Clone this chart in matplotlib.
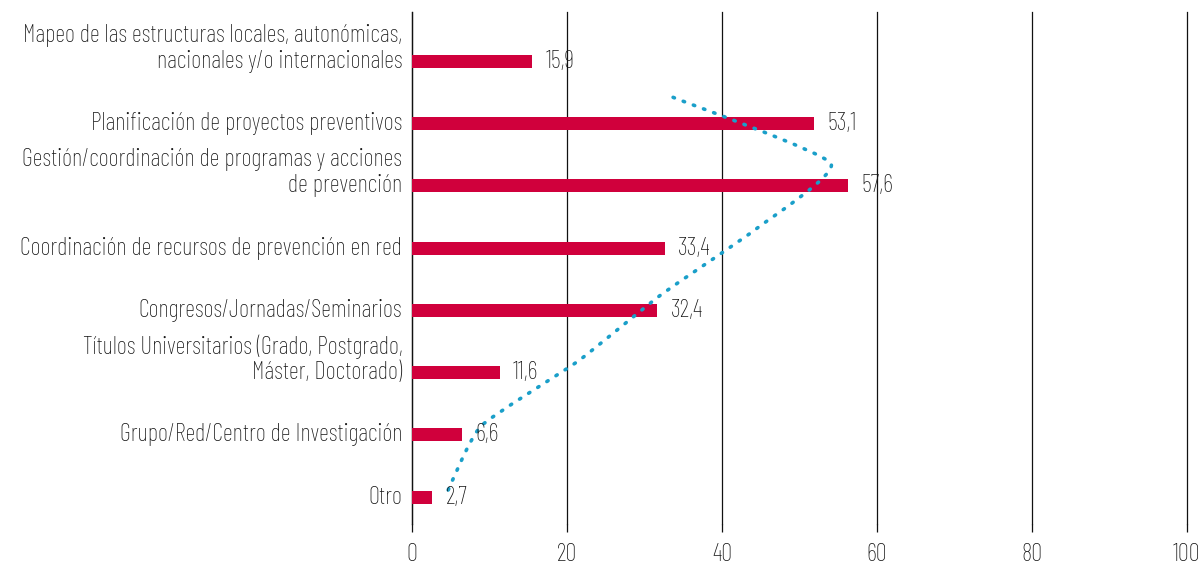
import matplotlib
matplotlib.use('Agg')
import matplotlib.pyplot as plt
from matplotlib.path import Path
from matplotlib.patches import PathPatch

# categories (top to bottom) and percentages
categories = [
    'Mapeo de las estructuras locales, autonómicas,\nnacionales y/o internacionales',
    'Planificación de proyectos preventivos',
    'Gestión/coordinación de programas y acciones\nde prevención',
    'Coordinación de recursos de prevención en red',
    'Congresos/Jornadas/Seminarios',
    'Títulos Universitarios (Grado, Postgrado,\nMáster, Doctorado)',
    'Grupo/Red/Centro de Investigación',
    'Otro',
]
values = [15.9, 53.1, 57.6, 33.4, 32.4, 11.6, 6.6, 2.7]
value_labels = ['15,9', '53,1', '57,6', '33,4', '32,4', '11,6', '6,6', '2,7']

# dotted trend line
trend_values = [34.5, 55.35, 45.5, 32.9, 22.0, 9.1, 4.65]
trend_pos = [0.58, 1.64, 2.69, 3.75, 4.81, 5.86, 6.92]

xticks = [0, 20, 40, 60, 80, 100]

plt.rcParams['font.family'] = ['Barlow Condensed', 'DejaVu Sans']
plt.rcParams['font.weight'] = 'light'

text_color = '#151515'
bar_color = '#D0003C'
trend_color = '#1A9FC9'
fs = 17.8

fig = plt.figure(figsize=(12, 5.72), dpi=100)
ax = fig.add_axes([412 / 1200, 1 - 524 / 572, (1187 - 412) / 1200, (524 - 12) / 572])
# bars and trend sit on their own (slightly wider) value axis, like the source chart
bx = ax.twiny()
bx.set_xlim(0, 102.4)
bx.axis('off')

pos = list(range(len(values)))
bx.barh(pos, values, height=0.21, color=bar_color, zorder=2)

for p, v, lab in zip(pos, values, value_labels):
    bx.annotate(lab, (v, p), xytext=(9.5, 0), textcoords='offset points',
                ha='left', va='center', fontsize=fs, color=text_color, zorder=4)

# category labels: last line sits on the bar
for p, cat in zip(pos, categories):
    lines = cat.split('\n')
    for k, line in enumerate(reversed(lines)):
        bx.annotate(line, (0, p), xytext=(-7, 18.7 * k), textcoords='offset points',
                    ha='right', va='center', fontsize=fs, color=text_color,
                    annotation_clip=False)

# lightly smoothed dotted line through the trend points
pts = list(zip(trend_values, trend_pos))
k = 1 / 12
verts = [pts[0]]
codes = [Path.MOVETO]
for i in range(len(pts) - 1):
    p0 = pts[max(i - 1, 0)]
    p1 = pts[i]
    p2 = pts[i + 1]
    p3 = pts[min(i + 2, len(pts) - 1)]
    c1 = (p1[0] + (p2[0] - p0[0]) * k, p1[1] + (p2[1] - p0[1]) * k)
    c2 = (p2[0] - (p3[0] - p1[0]) * k, p2[1] - (p3[1] - p1[1]) * k)
    verts += [c1, c2, p2]
    codes += [Path.CURVE4] * 3
bx.add_patch(PathPatch(Path(verts, codes), fill=False, edgecolor=trend_color,
                       linestyle=(0, (0.4, 2.6)), linewidth=2.6, capstyle='round',
                       zorder=3))

for a in (ax, bx):
    a.set_ylim(7.43, -0.79)

ax.set_xlim(0, 100)
ax.set_xticks(xticks)
ax.set_xticklabels([str(t) for t in xticks], fontsize=fs, color=text_color)
ax.set_yticks([])
ax.grid(axis='x', color='#111111', linewidth=0.9, zorder=1)
for gl in ax.get_xgridlines():
    gl.set_clip_on(False)
ax.tick_params(axis='x', length=6, width=0.9, color='#111111', pad=8)
for s in ['top', 'right', 'bottom']:
    ax.spines[s].set_visible(False)
ax.spines['left'].set_color('#111111')
ax.spines['left'].set_linewidth(0.9)

fig.savefig('out.png', dpi=100)
